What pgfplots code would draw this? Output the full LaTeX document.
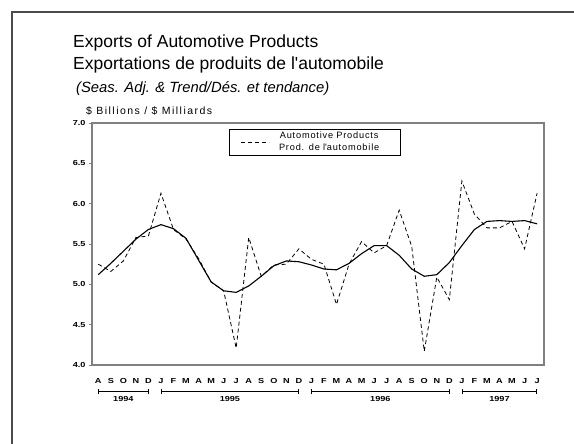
\documentclass[border=0pt]{standalone}
\usepackage{fontspec}
\setmainfont{Liberation Sans}
\newfontfamily\tickfont[FakeStretch=1.25]{Liberation Sans}
\newfontfamily\spacedfont[LetterSpace=9]{Liberation Sans}
\newfontfamily\widefont[LetterSpace=14]{Liberation Sans}
\usepackage{pgfplots}
\pgfplotsset{compat=1.18}
\usetikzlibrary{arrows.meta}

\pgfplotstableread{
m raw trend
0 5.25 5.12
1 5.16 5.26
2 5.29 5.41
3 5.58 5.56
4 5.60 5.68
5 6.13 5.74
6 5.68 5.69
7 5.56 5.57
8 5.32 5.30
9 5.03 5.03
10 4.92 4.92
11 4.21 4.90
12 5.58 4.98
13 5.10 5.10
14 5.24 5.23
15 5.25 5.29
16 5.44 5.28
17 5.31 5.24
18 5.25 5.19
19 4.75 5.18
20 5.25 5.26
21 5.53 5.38
22 5.39 5.48
23 5.48 5.48
24 5.92 5.36
25 5.47 5.19
26 4.17 5.10
27 5.09 5.12
28 4.81 5.27
29 6.28 5.48
30 5.87 5.68
31 5.70 5.78
32 5.70 5.79
33 5.78 5.78
34 5.44 5.79
35 6.13 5.75
}\datatable

\begin{document}
\begin{tikzpicture}
\path[use as bounding box] (0pt,0pt) rectangle (574pt,-444pt);
\draw[line width=1.5pt, black!70] (12pt,-450pt) -- (12pt,-12pt) -- (580pt,-12pt);
\node[anchor=base west, inner sep=0pt, font=\fontsize{17.5}{20}\selectfont] at (73pt,-48pt) {Exports of Automotive Products};
\node[anchor=base west, inner sep=0pt, font=\fontsize{17.5}{20}\selectfont] at (73pt,-70pt) {Exportations de produits de l\textquotesingle automobile};
\node[anchor=base west, inner sep=0pt, font=\fontsize{14.8}{17}\selectfont\itshape] at (76pt,-93pt) {(Seas. Adj. \& Trend/Dés. et tendance)};
\node[anchor=base west, inner sep=0pt, font=\widefont\fontsize{10.5}{12}\selectfont] at (86pt,-115pt) {\$ Billions / \$ Milliards};

\begin{axis}[
  at={(92pt,-365pt)}, anchor=south west, scale only axis,
  width=452pt, height=242pt,
  xmin=-0.5, xmax=35.55, ymin=4, ymax=7,
  clip=false,
  axis line style={draw=gray, line width=1.5pt},
  tick align=outside, tick pos=left, major tick length=3pt,
  ytick={4,4.5,5,5.5,6,6.5,7},
  y tick style={draw=gray, line width=0.8pt},
  yticklabel style={/pgf/number format/.cd, fixed, fixed zerofill, precision=1, assume math mode=true},
  ticklabel style={font={\tickfont\bfseries\fontsize{7.3}{8}\selectfont}},
  xtick={0,...,35},
  xticklabels={A,S,O,N,D,J,F,M,A,M,J,J,A,S,O,N,D,J,F,M,A,M,J,J,A,S,O,N,D,J,F,M,A,M,J,J},
  x tick style={draw=none},
  xticklabel style={yshift=-7pt},
  legend cell align=center,
  legend style={at={(0.303,0.975)}, anchor=north west, draw=black, line width=0.8pt,
    font=\spacedfont\fontsize{9.2}{11.5}\selectfont, inner xsep=11pt, inner ysep=0.5pt,
    /tikz/every even column/.append style={column sep=3pt}},
  legend image code/.code={\draw[#1] (0pt,0pt) -- (28pt,0pt);},
]
\addplot[black, line width=0.8pt, dash pattern=on 4pt off 3pt] table[x=m, y=raw] {\datatable};
\addlegendentry[align=center, text width=116pt, text height=7pt, text depth=13.5pt]{Automotive Products\\Prod. de l\textquotesingle automobile}
\addplot[black, line width=1.1pt, forget plot] table[x=m, y=trend] {\datatable};

\draw[{Bar[width=5pt]}-{Bar[width=5pt]}, line width=0.8pt] ([yshift=-26.7pt]axis cs:0,4) -- ([yshift=-26.7pt]axis cs:4,4);
\draw[{Bar[width=5pt]}-{Bar[width=5pt]}, line width=0.8pt] ([yshift=-26.7pt]axis cs:5,4) -- ([yshift=-26.7pt]axis cs:16,4);
\draw[{Bar[width=5pt]}-{Bar[width=5pt]}, line width=0.8pt] ([yshift=-26.7pt]axis cs:17,4) -- ([yshift=-26.7pt]axis cs:28,4);
\draw[{Bar[width=5pt]}-{Bar[width=5pt]}, line width=0.8pt] ([yshift=-26.7pt]axis cs:29,4) -- ([yshift=-26.7pt]axis cs:35,4);
\node[font={\tickfont\bfseries\fontsize{7.3}{8}\selectfont}] at ([yshift=-34pt]axis cs:2,4) {1994};
\node[font={\tickfont\bfseries\fontsize{7.3}{8}\selectfont}] at ([yshift=-34pt]axis cs:10.5,4) {1995};
\node[font={\tickfont\bfseries\fontsize{7.3}{8}\selectfont}] at ([yshift=-34pt]axis cs:22.5,4) {1996};
\node[font={\tickfont\bfseries\fontsize{7.3}{8}\selectfont}] at ([yshift=-34pt]axis cs:32,4) {1997};
\end{axis}
\end{tikzpicture}
\end{document}
